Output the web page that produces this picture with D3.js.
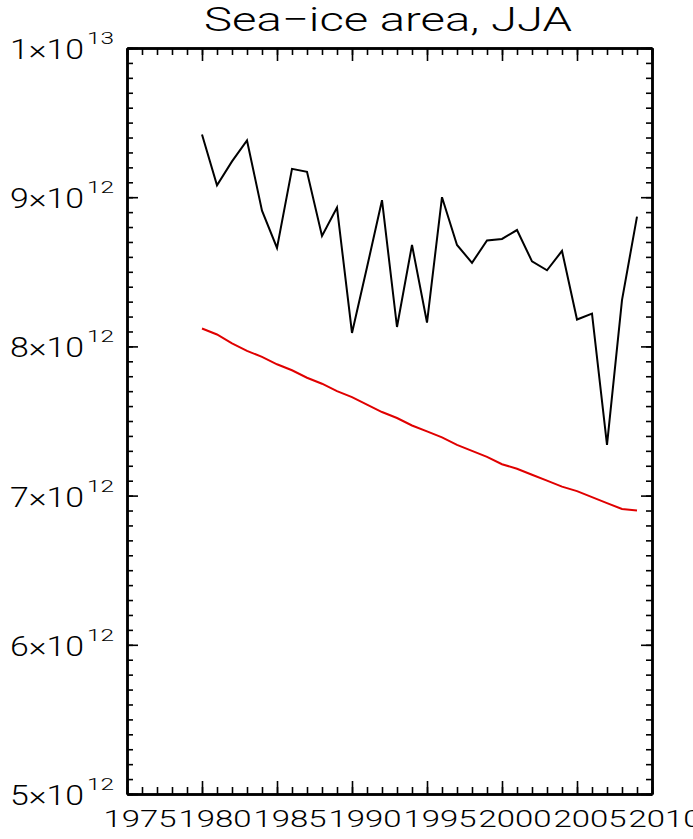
<!DOCTYPE html>
<html lang="en">
<head>
<meta charset="UTF-8">
<script src="https://d3js.org/d3.v7.min.js"></script>
<title>Sea-ice area, JJA</title>
<style>
  body { margin: 0; background: #fff; }
  svg text { font-family: Roboto, "Liberation Sans", Arial, sans-serif; font-weight: 300; fill: #000; }
  .axis path, .axis line { stroke: #000; }
  .axis path { stroke-width: 2.5; }
  .axis line { stroke-width: 1.6; }
</style>
</head>
<body>
<svg id="chart" width="693" height="839"></svg>
<script>
// values are in units of 1e12 (m^2)
const years = d3.range(1980, 2010);
const observed = [9.42, 9.08, 9.24, 9.38, 8.91, 8.66, 9.19, 9.17, 8.74, 8.93,
                  8.09, 8.53, 8.98, 8.13, 8.68, 8.16, 9.00, 8.68, 8.56, 8.71,
                  8.72, 8.78, 8.57, 8.51, 8.64, 8.18, 8.22, 7.34, 8.31, 8.87];
const trend = [8.12, 8.08, 8.02, 7.97, 7.93, 7.88, 7.84, 7.79, 7.75, 7.70,
               7.66, 7.61, 7.56, 7.52, 7.47, 7.43, 7.39, 7.34, 7.30, 7.26,
               7.21, 7.18, 7.14, 7.10, 7.06, 7.03, 6.99, 6.95, 6.91, 6.90];

const xTicks = [1975, 1980, 1985, 1990, 1995, 2000, 2005, 2010];
const yTicks = [5, 6, 7, 8, 9, 10];
const yMantissa = ["5", "6", "7", "8", "9", "1"];
const yExponent = ["12", "12", "12", "12", "12", "13"];

const svg = d3.select("#chart");
const margin = {top: 48, right: 41, bottom: 45, left: 127};
const width = +svg.attr("width"), height = +svg.attr("height");
const chartWidth = width - margin.left - margin.right;
const chartHeight = height - margin.top - margin.bottom;

const x = d3.scaleLinear().domain([1975, 2010]).range([margin.left, margin.left + chartWidth]);
const y = d3.scaleLinear().domain([5, 10]).range([margin.top + chartHeight, margin.top]);

const minorX = d3.range(1975, 2011, 1);
const minorY = d3.range(50, 101, 1).map(d => d / 10);

function addAxis(axis, tx, ty) {
  svg.append("g").attr("class", "axis")
     .attr("transform", "translate(" + tx + "," + ty + ")")
     .call(axis);
}

// minor ticks, pointing inward on all four sides
addAxis(d3.axisBottom(x).tickValues(minorX).tickSize(-7).tickSizeOuter(0).tickFormat(""), 0, y(5));
addAxis(d3.axisTop(x).tickValues(minorX).tickSize(-7).tickSizeOuter(0).tickFormat(""), 0, y(10));
addAxis(d3.axisLeft(y).tickValues(minorY).tickSize(-6).tickSizeOuter(0).tickFormat(""), x(1975), 0);
addAxis(d3.axisRight(y).tickValues(minorY).tickSize(-6).tickSizeOuter(0).tickFormat(""), x(2010), 0);
// major ticks
addAxis(d3.axisBottom(x).tickValues(xTicks).tickSize(-13).tickSizeOuter(0).tickFormat(""), 0, y(5));
addAxis(d3.axisTop(x).tickValues(xTicks).tickSize(-13).tickSizeOuter(0).tickFormat(""), 0, y(10));
addAxis(d3.axisLeft(y).tickValues(yTicks).tickSize(-11).tickSizeOuter(0).tickFormat(""), x(1975), 0);
addAxis(d3.axisRight(y).tickValues(yTicks).tickSize(-11).tickSizeOuter(0).tickFormat(""), x(2010), 0);

// x tick labels (they run into each other like the original)
svg.append("g").selectAll("text").data(xTicks).join("text")
   .attr("x", d => x(d) + 13)
   .attr("y", y(5) + 33)
   .attr("text-anchor", "middle")
   .attr("font-size", 24)
   .attr("textLength", 73)
   .attr("lengthAdjust", "spacingAndGlyphs")
   .text(d => d);

// y tick labels: mantissa x 10 with superscript exponent
const yLab = svg.append("g");
yLab.selectAll("text.base").data(yTicks).join("text")
   .attr("class", "base")
   .attr("x", 84)
   .attr("y", d => y(d) + 11)
   .attr("text-anchor", "end")
   .attr("font-size", 28)
   .attr("textLength", 74)
   .attr("lengthAdjust", "spacingAndGlyphs")
   .text((d, i) => yMantissa[i] + "\u00d710");
yLab.selectAll("text.exp").data(yTicks).join("text")
   .attr("class", "exp")
   .attr("x", 87)
   .attr("y", d => y(d) - 4)
   .attr("font-size", 16)
   .attr("textLength", 27)
   .attr("lengthAdjust", "spacingAndGlyphs")
   .text((d, i) => yExponent[i]);

// title
svg.append("text")
   .attr("x", 388).attr("y", 31)
   .attr("text-anchor", "middle")
   .attr("font-size", 34)
   .attr("textLength", 368)
   .attr("lengthAdjust", "spacingAndGlyphs")
   .text("Sea\u2212ice area, JJA");

const line = d3.line().x(d => x(d[0])).y(d => y(d[1]));

svg.append("path")
   .datum(years.map((yr, i) => [yr, trend[i]]))
   .attr("d", line)
   .attr("fill", "none")
   .attr("stroke", "#e00000")
   .attr("stroke-width", 2);

svg.append("path")
   .datum(years.map((yr, i) => [yr, observed[i]]))
   .attr("d", line)
   .attr("fill", "none")
   .attr("stroke", "#000")
   .attr("stroke-width", 2);
</script>
</body>
</html>
